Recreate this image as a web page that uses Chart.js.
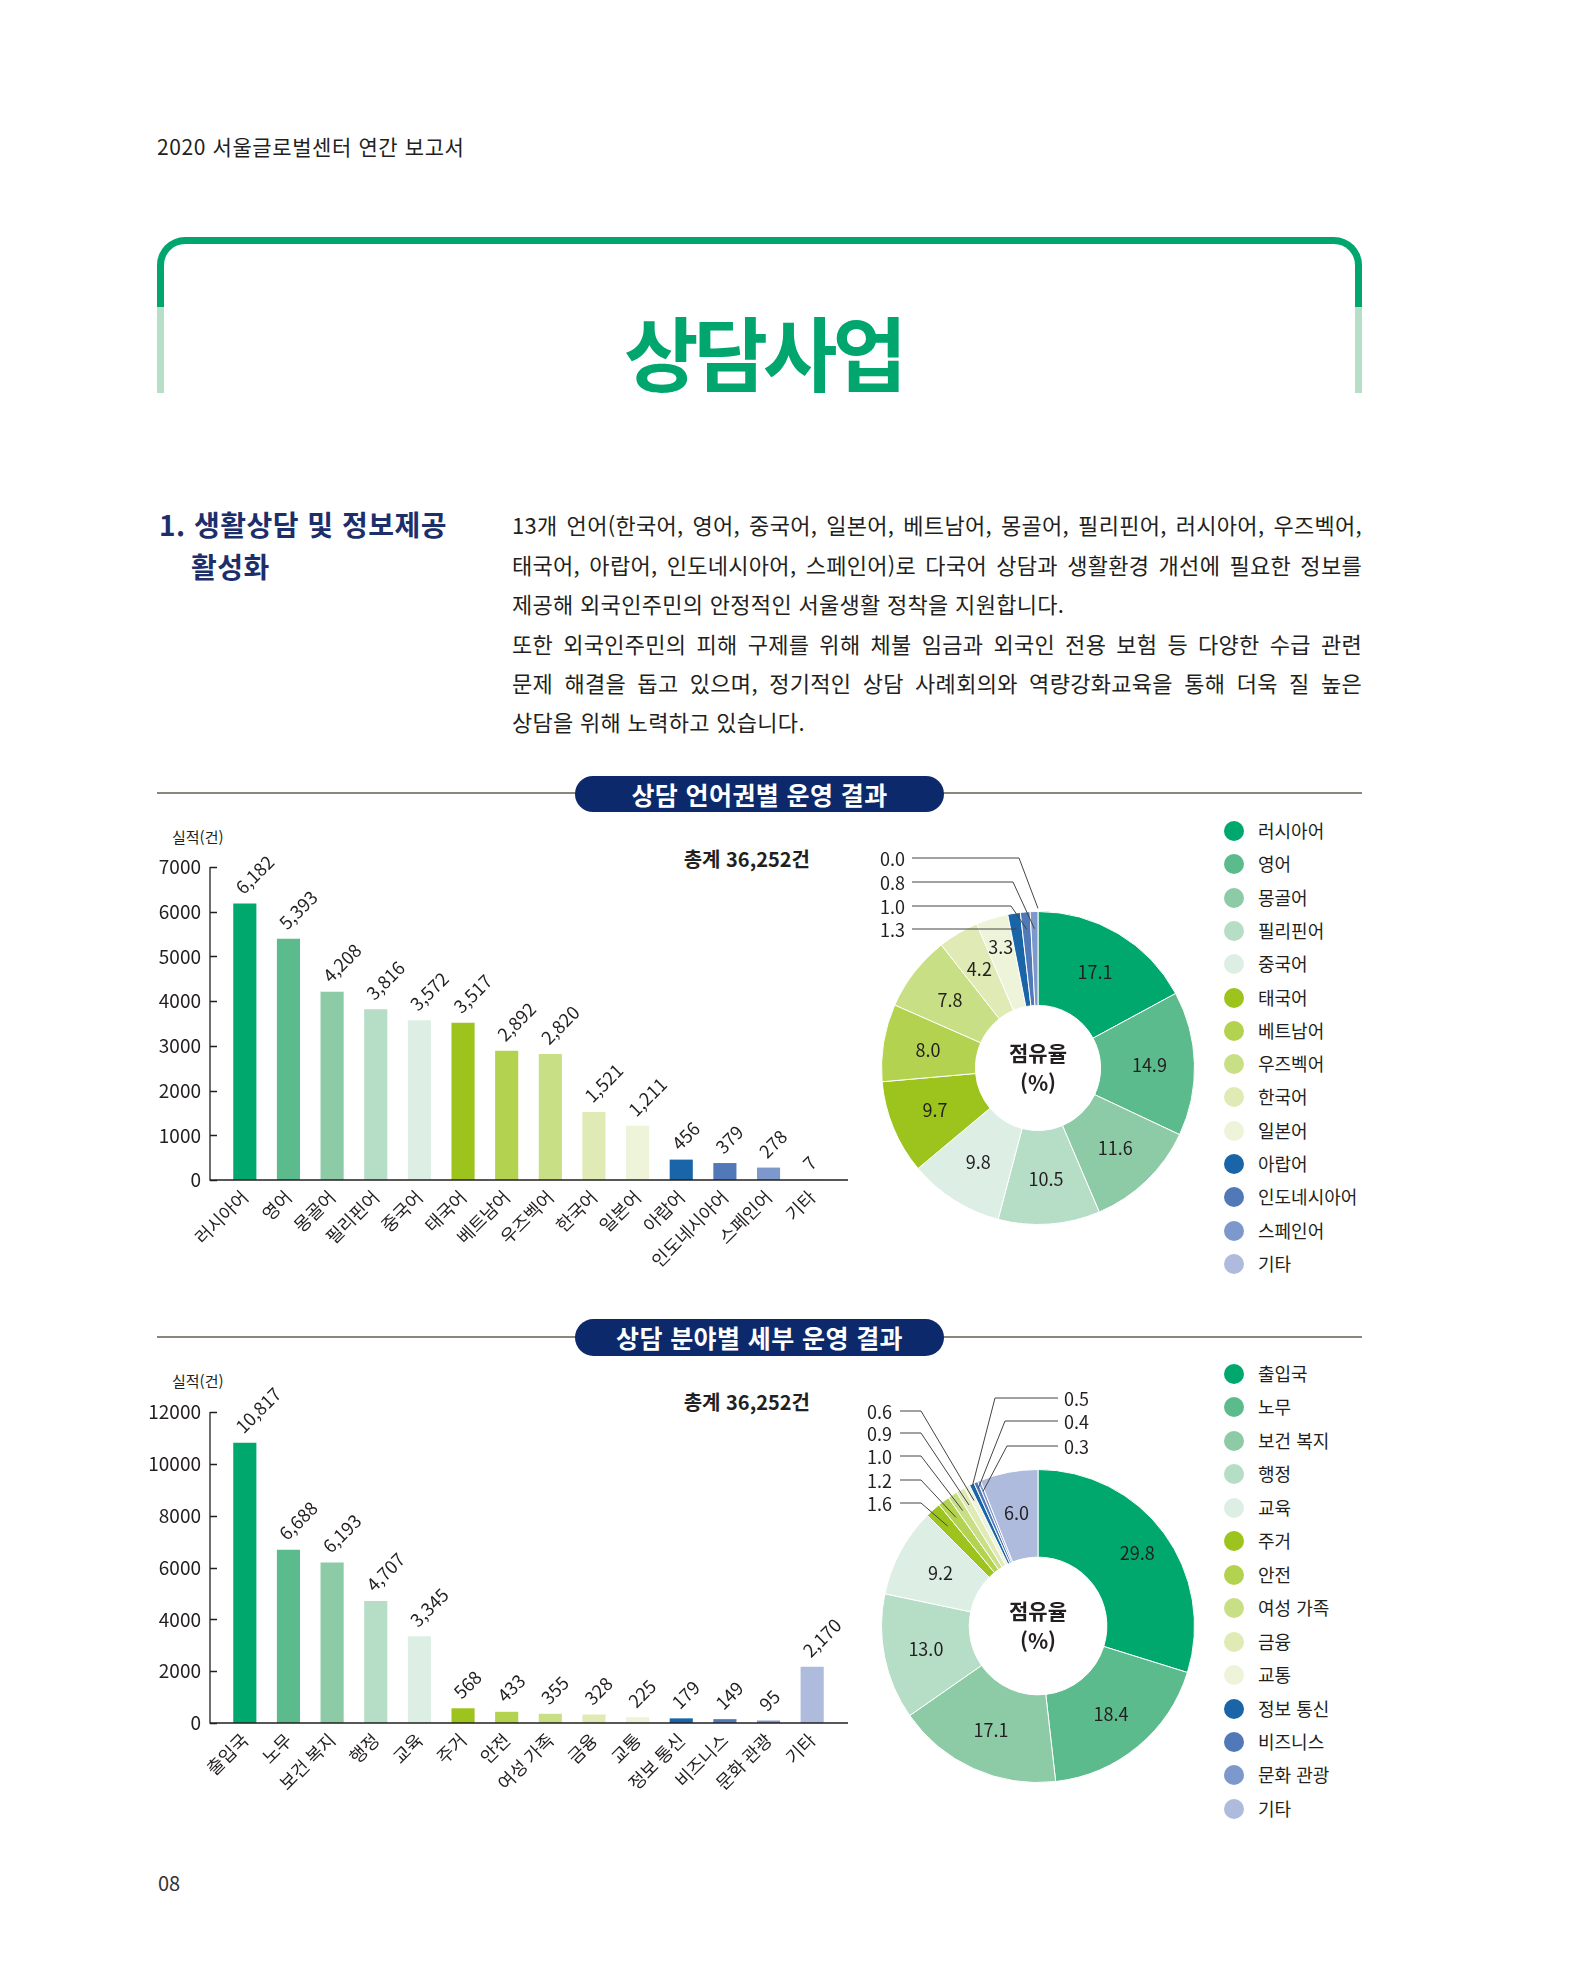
<!DOCTYPE html>
<html lang="ko">
<head>
<meta charset="utf-8">
<script src="https://cdn.jsdelivr.net/npm/chart.js@4.4.1/dist/chart.umd.min.js"></script>
<style>
html,body{margin:0;padding:0;background:#fff;}
body{width:1574px;height:1968px;position:relative;overflow:hidden;font-family:"Noto Sans CJK KR","Noto Sans",sans-serif;color:#231f20;}
.abs{position:absolute;white-space:nowrap;}
.para{position:absolute;left:512px;width:850px;font-size:22px;line-height:30px;letter-spacing:0.3px;white-space:normal;}
.just{text-align:justify;text-align-last:justify;}
.pill{position:absolute;left:575px;width:369px;border-radius:19px;background:#0c2a6b;color:#fff;font-weight:700;font-size:25px;letter-spacing:0.4px;text-align:center;}
.rule{position:absolute;left:157px;width:1205px;height:2px;background:#8b877d;}
.lg-dot{position:absolute;width:20px;height:20px;border-radius:50%;}
.lg-txt{position:absolute;font-size:18px;line-height:26px;white-space:nowrap;}
canvas{position:absolute;}
</style>
</head>
<body>
<div class="abs" style="left:157px;top:131px;font-size:21px;line-height:30px;letter-spacing:0.6px;">2020 서울글로벌센터 연간 보고서</div>

<div style="position:absolute;left:157px;top:237px;width:1205px;height:70px;box-sizing:border-box;border:7px solid #00a66e;border-bottom:none;border-radius:28px 28px 0 0;"></div>
<div style="position:absolute;left:157px;top:307px;width:7px;height:86px;background:#b7dfc7;"></div>
<div style="position:absolute;left:1355px;top:307px;width:7px;height:86px;background:#b7dfc7;"></div>
<div class="abs" style="left:459px;width:608px;top:300px;text-align:center;font-size:81px;line-height:100px;font-weight:700;letter-spacing:-5px;color:#00a66e;">상담사업</div>

<div class="abs" style="left:159px;top:506px;font-size:28px;line-height:36px;font-weight:700;color:#1c2f6b;letter-spacing:0.5px;">1. 생활상담 및 정보제공</div>
<div class="abs" style="left:191px;top:548px;font-size:28px;line-height:36px;font-weight:700;color:#1c2f6b;letter-spacing:0.5px;">활성화</div>

<div class="para just" style="top:509px;">13개 언어(한국어, 영어, 중국어, 일본어, 베트남어, 몽골어, 필리핀어, 러시아어, 우즈벡어,</div>
<div class="para just" style="top:549px;">태국어, 아랍어, 인도네시아어, 스페인어)로 다국어 상담과 생활환경 개선에 필요한 정보를</div>
<div class="para" style="top:588px;">제공해 외국인주민의 안정적인 서울생활 정착을 지원합니다.</div>
<div class="para just" style="top:628px;">또한 외국인주민의 피해 구제를 위해 체불 임금과 외국인 전용 보험 등 다양한 수급 관련</div>
<div class="para just" style="top:667px;">문제 해결을 돕고 있으며, 정기적인 상담 사례회의와 역량강화교육을 통해 더욱 질 높은</div>
<div class="para" style="top:706px;">상담을 위해 노력하고 있습니다.</div>

<div class="rule" style="top:792px;"></div>
<div class="pill" style="top:776px;height:36px;line-height:36px;">상담 언어권별 운영 결과</div>
<div class="rule" style="top:1336px;"></div>
<div class="pill" style="top:1319px;height:37px;line-height:37px;">상담 분야별 세부 운영 결과</div>

<div class="abs" style="left:172px;top:826px;font-size:15px;line-height:22px;">실적(건)</div>
<div class="abs" style="left:172px;top:1370px;font-size:15px;line-height:22px;">실적(건)</div>
<div class="abs" style="right:764px;top:845px;font-size:20px;line-height:28px;font-weight:700;">총계 36,252건</div>
<div class="abs" style="right:764px;top:1388px;font-size:20px;line-height:28px;font-weight:700;">총계 36,252건</div>

<canvas id="bar1" width="730" height="470" style="left:140px;top:830px;"></canvas>
<canvas id="pie1" width="360" height="476" style="left:858px;top:830px;"></canvas>
<canvas id="bar2" width="730" height="468" style="left:140px;top:1375px;"></canvas>
<canvas id="pie2" width="360" height="512" style="left:858px;top:1370px;"></canvas>

<div id="legend1"></div>
<div id="legend2"></div>

<div class="abs" style="left:158px;top:1868px;font-size:20px;line-height:30px;color:#333;">08</div>

<script>
// ---------- data ----------
const langLabels = ['러시아어','영어','몽골어','필리핀어','중국어','태국어','베트남어','우즈벡어','한국어','일본어','아랍어','인도네시아어','스페인어','기타'];
const langCounts = [6182,5393,4208,3816,3572,3517,2892,2820,1521,1211,456,379,278,7];
const langShares = [17.1,14.9,11.6,10.5,9.8,9.7,8.0,7.8,4.2,3.3,1.3,1.0,0.8,0.0];
const langYTicks = [0,1000,2000,3000,4000,5000,6000,7000];

const fieldLabels = ['출입국','노무','보건 복지','행정','교육','주거','안전','여성 가족','금융','교통','정보 통신','비즈니스','문화 관광','기타'];
const fieldCounts = [10817,6688,6193,4707,3345,568,433,355,328,225,179,149,95,2170];
const fieldShares = [29.8,18.4,17.1,13.0,9.2,1.6,1.2,1.0,0.9,0.6,0.5,0.4,0.3,6.0];
const fieldYTicks = [0,2000,4000,6000,8000,10000,12000];

const palette = ['#00a86e','#5bbb8c','#8dcaa6','#b6ddc6','#ddefe5','#9dc41c','#b3d350','#c8df85','#dfeab5','#eef4da','#1a64a8','#5179b8','#7d98cb','#aebbdd'];

// ---------- helpers ----------
const KR = '"Noto Sans CJK KR","Noto Sans",sans-serif';
const INK = '#231f20';
const fmt = v => String(v).replace(/\B(?=(\d{3})+(?!\d))/g, ',');

const axisFrame = {
  id: 'axisFrame',
  afterDraw(chart, args, o) {
    const {ctx, chartArea: a, scales: {y}} = chart;
    const x0 = a.left - o.gapLeft, x1 = a.right + o.gapRight;
    const yb = y.getPixelForValue(y.min), yt = y.getPixelForValue(y.max);
    ctx.save();
    ctx.strokeStyle = INK; ctx.lineWidth = 1.3;
    ctx.beginPath();
    ctx.moveTo(x0, yt); ctx.lineTo(x0, yb); ctx.lineTo(x1, yb);
    y.ticks.forEach(t => {
      const py = Math.round(y.getPixelForValue(t.value)) + 0.5;
      ctx.moveTo(x0, py); ctx.lineTo(x0 + o.tick, py);
    });
    ctx.stroke();
    ctx.restore();
  }
};

const barValues = {
  id: 'barValues',
  afterDatasetsDraw(chart) {
    const ctx = chart.ctx, meta = chart.getDatasetMeta(0), vals = chart.data.datasets[0].data;
    ctx.save();
    ctx.font = '18px ' + KR; ctx.fillStyle = INK; ctx.textAlign = 'left'; ctx.textBaseline = 'middle';
    meta.data.forEach((bar, i) => {
      ctx.save();
      ctx.translate(bar.x - 6, bar.y - 13);
      ctx.rotate(-Math.PI / 4);
      ctx.fillText(fmt(vals[i]), 0, 0);
      ctx.restore();
    });
    ctx.restore();
  }
};

const pieLabels = {
  id: 'pieLabels',
  afterDatasetsDraw(chart, args, o) {
    const ctx = chart.ctx, meta = chart.getDatasetMeta(0), vals = chart.data.datasets[0].data;
    let cx = 0, cy = 0;
    ctx.save();
    ctx.font = '18px ' + KR; ctx.fillStyle = INK; ctx.strokeStyle = '#444'; ctx.lineWidth = 1;
    meta.data.forEach((arc, i) => {
      const p = arc.getProps(['x','y','startAngle','endAngle','innerRadius','outerRadius']);
      cx = p.x; cy = p.y;
      const mid = (p.startAngle + p.endAngle) / 2;
      const txt = vals[i].toFixed(1);
      const c = o.callouts[i];
      if (c) {
        const ax = p.x + Math.cos(mid) * p.outerRadius * c.r;
        const ay = p.y + Math.sin(mid) * p.outerRadius * c.r;
        const ly = p.y + c.dy;
        ctx.beginPath();
        ctx.moveTo(p.x + c.lx, ly); ctx.lineTo(p.x + c.ex, ly); ctx.lineTo(ax, ay);
        ctx.stroke();
        ctx.textAlign = c.side === 'left' ? 'right' : 'left';
        ctx.textBaseline = 'middle';
        ctx.fillText(txt, p.x + c.tx, ly + 1);
      } else {
        const f = (o.fAdj && o.fAdj[i] !== undefined) ? o.fAdj[i] : o.f;
        const r = p.innerRadius + (p.outerRadius - p.innerRadius) * f;
        ctx.textAlign = 'center'; ctx.textBaseline = 'middle';
        ctx.fillText(txt, p.x + Math.cos(mid) * r, p.y + Math.sin(mid) * r);
      }
    });
    ctx.font = 'bold 21px ' + KR; ctx.textAlign = 'center'; ctx.textBaseline = 'middle';
    ctx.fillText('점유율', cx, cy - 15);
    ctx.fillText('(%)', cx, cy + 15);
    ctx.restore();
  }
};

function barChart(id, labels, values, yTicks) {
  return new Chart(document.getElementById(id), {
    type: 'bar',
    data: {labels: labels, datasets: [{data: values, backgroundColor: palette, borderWidth: 0, barPercentage: 0.53, categoryPercentage: 1}]},
    options: {
      responsive: false, animation: false,
      layout: {padding: {top: 37, right: 36, left: 0, bottom: 0}},
      plugins: {legend: {display: false}, tooltip: {enabled: false}, axisFrame: {gapLeft: 13, gapRight: 14, tick: 7}},
      scales: {
        x: {
          grid: {display: false, drawTicks: false}, border: {display: false},
          ticks: {autoSkip: false, maxRotation: 45, minRotation: 45, padding: 6, color: INK, font: {family: KR, size: 18}},
          afterFit(s) { s.height = 120; }
        },
        y: {
          min: yTicks[0], max: yTicks[yTicks.length - 1],
          grid: {display: false, drawTicks: false}, border: {display: false},
          ticks: {padding: 22, color: INK, font: {family: KR, size: 19}, callback: v => String(v)},
          afterBuildTicks(s) { s.ticks = yTicks.map(v => ({value: v})); },
          afterFit(s) { s.width = 83; }
        }
      }
    },
    plugins: [axisFrame, barValues]
  });
}

function pieChart(id, labels, values, cutout, callouts, fAdj) {
  return new Chart(document.getElementById(id), {
    type: 'doughnut',
    data: {labels: labels, datasets: [{data: values, backgroundColor: palette, borderColor: '#fff', borderWidth: 1}]},
    options: {
      responsive: false, animation: false, cutout: cutout,
      layout: {padding: 23},
      plugins: {legend: {display: false}, tooltip: {enabled: false}, pieLabels: {f: 0.52, fAdj: fAdj, callouts: callouts}}
    },
    plugins: [pieLabels]
  });
}

function legend(hostId, labels, top0, step) {
  const host = document.getElementById(hostId);
  labels.forEach((t, i) => {
    const y = top0 + i * step;
    const d = document.createElement('div');
    d.className = 'lg-dot';
    d.style.left = '1224px'; d.style.top = (y - 10) + 'px'; d.style.background = palette[i];
    host.appendChild(d);
    const s = document.createElement('div');
    s.className = 'lg-txt';
    s.style.left = '1258px'; s.style.top = (y - 14) + 'px';
    s.textContent = t;
    host.appendChild(s);
  });
}

barChart('bar1', langLabels, langCounts, langYTicks);
barChart('bar2', fieldLabels, fieldCounts, fieldYTicks);

pieChart('pie1', langLabels, langShares, '40%', {
  10: {side: 'left', dy: -139, ex: -23, lx: -126, tx: -133, r: 0.9},
  11: {side: 'left', dy: -162, ex: -27, lx: -126, tx: -133, r: 0.89},
  12: {side: 'left', dy: -186, ex: -25, lx: -126, tx: -133, r: 0.89},
  13: {side: 'left', dy: -210, ex: -19, lx: -126, tx: -133, r: 1.02}
}, {9: 0.68, 8: 0.56});
pieChart('pie2', fieldLabels, fieldShares, '44%', {
  5: {side: 'left', dy: -123, ex: -117, lx: -138, tx: -146, r: 0.86},
  6: {side: 'left', dy: -146, ex: -117, lx: -138, tx: -146, r: 0.87},
  7: {side: 'left', dy: -170, ex: -117, lx: -138, tx: -146, r: 0.88},
  8: {side: 'left', dy: -193, ex: -117, lx: -138, tx: -146, r: 0.89},
  9: {side: 'left', dy: -215, ex: -117, lx: -138, tx: -146, r: 0.9},
  10: {side: 'right', dy: -228, ex: -43, lx: 20, tx: 26, r: 0.99},
  11: {side: 'right', dy: -205, ex: -33, lx: 20, tx: 26, r: 0.96},
  12: {side: 'right', dy: -180, ex: -31, lx: 20, tx: 26, r: 0.93}
}, {0: 0.62, 4: 0.48});

legend('legend1', langLabels, 831, 33.3);
legend('legend2', fieldLabels, 1374, 33.45);
</script>
</body>
</html>
